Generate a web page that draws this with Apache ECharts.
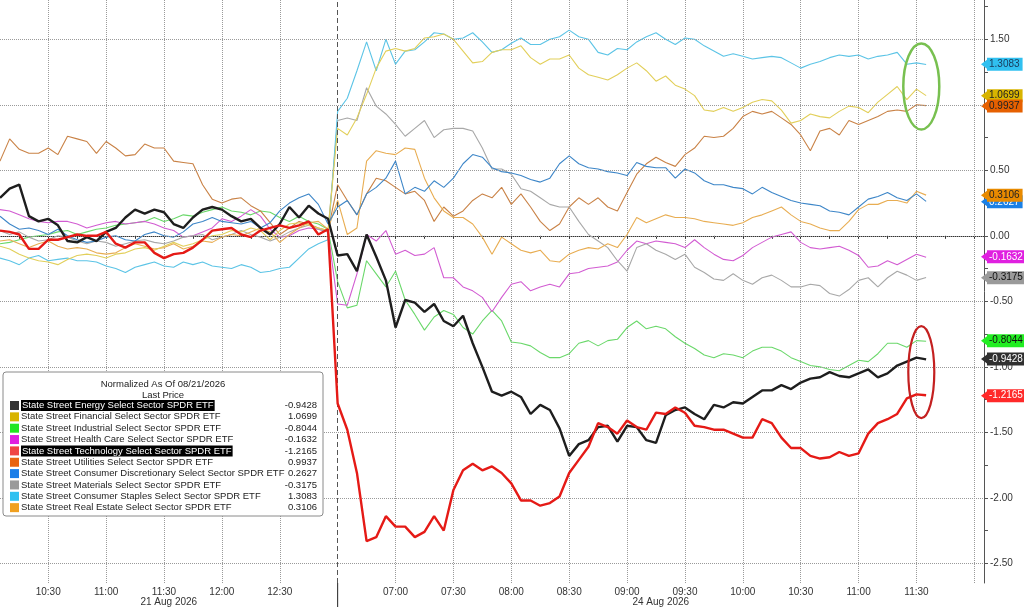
<!DOCTYPE html>
<html><head><meta charset="utf-8">
<script src="https://cdn.jsdelivr.net/npm/echarts@6/dist/echarts.min.js"></script>
<style>html,body{margin:0;padding:0;background:#fff}#c{width:1024px;height:607px}</style>
</head><body><div id="c"></div><script>
// ---------- axis data ----------
const day1Name = '21 Aug 2026';
const day2Name = '24 Aug 2026';
const day1Times = ['10:05','10:10','10:15','10:20','10:25','10:30','10:35','10:40','10:45','10:50','10:55','11:00','11:05','11:10','11:15','11:20','11:25','11:30','11:35','11:40','11:45','11:50','11:55','12:00','12:05','12:10','12:15','12:20','12:25','12:30','12:35','12:40','12:45','12:50','12:55'];
const day2Times = ['06:30','06:35','06:40','06:45','06:50','06:55','07:00','07:05','07:10','07:15','07:20','07:25','07:30','07:35','07:40','07:45','07:50','07:55','08:00','08:05','08:10','08:15','08:20','08:25','08:30','08:35','08:40','08:45','08:50','08:55','09:00','09:05','09:10','09:15','09:20','09:25','09:30','09:35','09:40','09:45','09:50','09:55','10:00','10:05','10:10','10:15','10:20','10:25','10:30','10:35','10:40','10:45','10:50','10:55','11:00','11:05','11:10','11:15','11:20','11:25','11:30','11:35','11:40','11:45','11:50','11:55','12:00','12:05'];
const day1Labels = ['10:30','11:00','11:30','12:00','12:30'];
const day2Labels = ['07:00','07:30','08:00','08:30','09:00','09:30','10:00','10:30','11:00','11:30'];
const day2ExtraGrid = ['12:00'];
const yMajor = [-2.5,-2,-1.5,-1,-0.5,0,0.5,1,1.5];
const yMinor = [-2.5,-2.25,-2,-1.75,-1.5,-1.25,-1,-0.75,-0.5,-0.25,0,0.25,0.5,0.75,1,1.25,1.5,1.75];

// ---------- series meta ----------
const seriesNames = ['State Street Energy Select Sector SPDR ETF','State Street Financial Select Sector SPDR ETF','State Street Industrial Select Sector SPDR ETF','State Street Health Care Select Sector SPDR ETF','State Street Technology Select Sector SPDR ETF','State Street Utilities Select Sector SPDR ETF','State Street Consumer Discretionary Select Sector SPDR ETF','State Street Materials Select Sector SPDR ETF','State Street Consumer Staples Select Sector SPDR ETF','State Street Real Estate Select Sector SPDR ETF'];
const lastPrices = ['-0.9428','1.0699','-0.8044','-0.1632','-1.2165','0.9937','0.2627','-0.3175','1.3083','0.3106'];

// ---------- series values (day 1: 10:05-12:55, day 2: 06:30-11:35, 5-min) ----------
const energyD1 = [0.29,0.36,0.39,0.15,0.11,0.13,0.08,-0.04,-0.05,-0.01,-0.04,0.03,0.06,0.14,0.20,0.17,0.20,0.18,0.09,0.06,0.14,0.20,0.22,0.20,0.15,0.11,0.13,0.06,0.01,0.09,0.22,0.14,0.23,0.17,0.13];
const energyD2 = [-0.15,-0.14,-0.27,0.01,-0.16,-0.34,-0.70,-0.49,-0.51,-0.58,-0.52,-0.65,-0.69,-0.61,-0.82,-1.00,-1.19,-1.22,-1.19,-1.23,-1.36,-1.29,-1.33,-1.47,-1.68,-1.59,-1.56,-1.46,-1.45,-1.57,-1.45,-1.46,-1.56,-1.58,-1.37,-1.33,-1.31,-1.36,-1.40,-1.29,-1.31,-1.27,-1.28,-1.23,-1.18,-1.18,-1.14,-1.17,-1.12,-1.09,-1.08,-1.04,-1.07,-1.08,-1.05,-1.02,-1.08,-1.05,-0.99,-0.96,-0.93,-0.9428];
const financialD1 = [-0.08,-0.10,-0.14,-0.17,-0.19,-0.20,-0.22,-0.18,-0.15,-0.14,-0.15,-0.17,-0.14,-0.13,-0.10,-0.09,-0.11,-0.08,-0.05,-0.08,-0.06,-0.03,0.00,0.01,0.04,0.03,0.06,0.04,-0.03,0.04,0.09,0.10,0.08,0.06,0.04];
const financialD2 = [0.82,0.77,0.90,1.08,1.28,1.41,1.43,1.41,1.43,1.51,1.52,1.54,1.50,1.41,1.32,1.33,1.40,1.42,1.42,1.45,1.36,1.31,1.35,1.35,1.38,1.28,1.23,1.21,1.19,1.23,1.28,1.32,1.26,1.18,1.22,1.15,1.12,1.07,0.96,0.95,0.98,0.95,0.98,1.02,1.04,1.03,0.96,0.86,0.88,0.93,0.91,0.90,0.95,0.99,0.98,0.94,1.02,1.08,1.14,1.04,1.12,1.0699];
const industrialD1 = [-0.06,-0.05,-0.03,-0.01,0.00,0.01,0.03,0.04,0.01,0.03,0.05,0.06,0.08,0.09,0.10,0.11,0.14,0.11,0.13,0.16,0.15,0.18,0.20,0.22,0.19,0.18,0.16,0.19,0.18,0.14,0.11,0.15,0.11,0.09,0.05];
const industrialD2 = [-0.35,-0.55,-0.53,-0.19,-0.29,-0.39,-0.27,-0.49,-0.60,-0.72,-0.62,-0.57,-0.60,-0.70,-0.75,-0.65,-0.57,-0.65,-0.81,-0.82,-0.84,-0.89,-0.93,-0.93,-0.90,-0.82,-0.80,-0.84,-0.80,-0.79,-0.70,-0.65,-0.71,-0.69,-0.71,-0.77,-0.82,-0.86,-0.91,-0.93,-0.90,-0.91,-0.93,-0.88,-0.85,-0.85,-0.88,-0.93,-0.96,-0.99,-1.00,-1.02,-1.03,-0.99,-0.95,-0.96,-0.90,-0.82,-0.82,-0.85,-0.80,-0.8044];
const healthD1 = [0.20,0.19,0.16,0.13,0.11,0.10,0.11,0.11,0.09,0.06,0.08,0.10,0.11,0.09,0.10,0.11,0.09,0.06,0.04,-0.01,0.00,0.03,0.06,0.13,0.11,0.15,0.20,0.15,0.05,-0.01,0.00,0.04,0.06,0.05,0.03];
const healthD2 = [-0.52,-0.53,-0.29,0.01,-0.04,0.04,-0.14,-0.11,-0.15,-0.14,-0.09,-0.32,-0.32,-0.39,-0.42,-0.47,-0.58,-0.47,-0.37,-0.35,-0.42,-0.39,-0.37,-0.39,-0.29,-0.28,-0.25,-0.24,-0.23,-0.20,-0.11,-0.04,-0.06,-0.04,-0.05,-0.06,-0.09,-0.03,-0.09,-0.14,-0.18,-0.19,-0.15,-0.09,-0.05,-0.01,0.01,0.03,-0.05,-0.09,-0.10,-0.09,-0.08,-0.11,-0.15,-0.24,-0.23,-0.19,-0.22,-0.18,-0.14,-0.1632];
const techD1 = [0.04,0.03,0.01,-0.10,-0.10,-0.03,-0.03,-0.01,0.01,0.00,0.00,0.03,-0.06,-0.09,-0.05,-0.05,-0.13,-0.17,-0.14,-0.13,-0.09,-0.03,0.04,0.05,0.06,0.01,-0.01,0.04,0.06,0.08,0.06,0.08,0.11,0.01,0.05];
const techD2 = [-1.28,-1.48,-1.81,-2.33,-2.30,-2.14,-2.22,-2.22,-2.30,-2.26,-2.14,-2.25,-1.94,-1.79,-1.74,-1.79,-1.76,-1.81,-1.89,-2.02,-2.02,-2.06,-2.04,-1.99,-1.81,-1.71,-1.61,-1.43,-1.46,-1.51,-1.41,-1.46,-1.48,-1.35,-1.36,-1.31,-1.35,-1.45,-1.46,-1.48,-1.48,-1.51,-1.54,-1.54,-1.40,-1.43,-1.54,-1.62,-1.62,-1.68,-1.70,-1.69,-1.65,-1.68,-1.66,-1.51,-1.43,-1.40,-1.36,-1.24,-1.21,-1.2165];
const utilitiesD1 = [0.57,0.74,0.66,0.63,0.63,0.67,0.62,0.76,0.74,0.72,0.63,0.72,0.67,0.61,0.62,0.70,0.67,0.67,0.57,0.56,0.55,0.39,0.28,0.25,0.28,0.29,0.23,0.19,0.10,0.01,0.06,0.11,0.09,0.06,0.04];
const utilitiesD2 = [0.39,0.27,0.16,0.32,0.44,0.42,0.37,0.32,0.34,0.27,0.11,0.22,0.15,0.19,0.27,0.32,0.29,0.37,0.24,0.32,0.22,0.11,0.04,0.09,0.22,0.29,0.24,0.29,0.22,0.19,0.33,0.47,0.55,0.60,0.56,0.53,0.62,0.67,0.76,0.75,0.76,0.82,0.91,0.95,0.93,0.95,0.90,0.85,0.77,0.65,0.80,0.82,0.77,0.88,0.85,0.88,0.91,0.95,0.96,0.95,1.00,0.9937];
const discD1 = [0.15,0.09,0.05,0.06,0.04,0.01,0.05,0.00,-0.03,-0.05,-0.04,-0.01,0.00,-0.03,-0.04,0.01,0.03,0.00,-0.01,0.03,0.09,0.11,0.14,0.11,0.10,0.09,0.11,0.06,0.10,0.19,0.25,0.29,0.32,0.24,0.09];
const discD2 = [0.22,0.27,0.16,0.32,0.37,0.44,0.57,0.32,0.37,0.34,0.42,0.37,0.44,0.55,0.62,0.60,0.52,0.49,0.48,0.46,0.43,0.41,0.44,0.55,0.61,0.55,0.52,0.51,0.49,0.48,0.46,0.56,0.53,0.52,0.52,0.44,0.51,0.48,0.42,0.39,0.39,0.37,0.36,0.32,0.37,0.33,0.30,0.27,0.25,0.24,0.23,0.19,0.18,0.16,0.22,0.28,0.30,0.33,0.29,0.27,0.32,0.2627];
const materialsD1 = [0.04,0.01,0.03,-0.01,-0.04,-0.03,0.00,-0.01,-0.04,-0.06,-0.04,-0.05,-0.08,-0.06,-0.04,-0.03,-0.05,-0.06,-0.04,-0.01,0.00,0.01,-0.03,-0.01,0.01,0.04,0.01,-0.01,-0.04,-0.01,0.03,0.06,0.08,0.05,0.03];
const materialsD2 = [0.88,0.90,0.88,1.13,0.99,0.93,0.85,0.76,0.82,0.88,0.75,0.81,0.82,0.82,0.80,0.67,0.51,0.51,0.47,0.36,0.34,0.29,0.24,0.22,0.22,0.11,0.01,-0.04,-0.09,-0.19,-0.27,-0.09,-0.06,-0.11,-0.14,-0.18,-0.14,-0.24,-0.28,-0.33,-0.34,-0.29,-0.34,-0.37,-0.32,-0.30,-0.34,-0.39,-0.39,-0.37,-0.38,-0.44,-0.46,-0.41,-0.34,-0.32,-0.39,-0.32,-0.27,-0.30,-0.34,-0.3175];
const staplesD1 = [-0.17,-0.19,-0.22,-0.17,-0.15,-0.19,-0.18,-0.17,-0.19,-0.19,-0.20,-0.23,-0.25,-0.28,-0.24,-0.22,-0.20,-0.23,-0.24,-0.20,-0.22,-0.20,-0.23,-0.24,-0.25,-0.22,-0.24,-0.28,-0.27,-0.25,-0.24,-0.17,-0.10,-0.06,-0.03];
const staplesD2 = [0.95,1.05,1.26,1.48,1.26,1.50,1.31,1.41,1.42,1.48,1.55,1.54,1.50,1.51,1.55,1.48,1.40,1.42,1.47,1.51,1.46,1.46,1.50,1.52,1.57,1.52,1.50,1.40,1.38,1.43,1.42,1.48,1.52,1.55,1.50,1.46,1.51,1.50,1.45,1.41,1.37,1.39,1.37,1.35,1.36,1.37,1.36,1.32,1.28,1.31,1.33,1.36,1.38,1.37,1.38,1.35,1.37,1.38,1.40,1.31,1.32,1.3083];
const realEstateD1 = [-0.04,-0.03,-0.06,-0.09,-0.06,-0.04,-0.08,-0.10,-0.09,-0.10,-0.13,-0.14,-0.13,-0.09,-0.06,-0.08,-0.10,-0.09,-0.06,-0.10,-0.08,-0.04,-0.05,-0.01,0.01,0.00,0.03,0.06,0.03,-0.05,0.01,0.06,0.10,0.11,0.05];
const realEstateD2 = [0.27,0.01,0.06,0.57,0.65,0.63,0.62,0.67,0.66,0.44,0.29,0.19,0.14,0.14,0.09,-0.01,-0.14,-0.01,-0.06,-0.11,-0.13,-0.11,-0.19,-0.20,-0.14,-0.11,-0.09,-0.10,-0.06,-0.09,0.01,0.14,0.10,0.13,0.16,0.14,0.14,0.13,0.11,0.10,0.09,0.08,0.10,0.14,0.16,0.19,0.22,0.16,0.11,0.09,0.06,0.04,0.04,0.11,0.20,0.24,0.24,0.27,0.27,0.25,0.34,0.3106];

const day1Values = [energyD1,financialD1,industrialD1,healthD1,techD1,utilitiesD1,discD1,materialsD1,staplesD1,realEstateD1];
const day2Values = [energyD2,financialD2,industrialD2,healthD2,techD2,utilitiesD2,discD2,materialsD2,staplesD2,realEstateD2];

// ---------- styles ----------
const lineColors = ['#1e1e1e','#e2cf5a','#6ad86a','#d25cd2','#e51a16','#c98246','#3d86c8','#a8a8a8','#5cc4e6','#e8ad52'];
const lineWidths = [2.4,1.1,1.1,1.1,2.4,1.1,1.1,1.1,1.1,1.1];
const lineZ = [6,4,3,3,7,3,4,3,3,3];
const squareColors = ['#333333','#d8b400','#22e622','#e020e0','#f04444','#e86412','#1a7ee8','#9a9a9a','#2ec0f0','#f0a020'];
const tagBg = ['#303030','#d8b400','#22ee22','#e020e0','#ff2a2a','#e66000','#1a80e6','#9a9a9a','#30c0f0','#e88a00'];
const tagFg = ['#ffffff','#222222','#111111','#ffffff','#ffffff','#222222','#ffffff','#111111','#1a3a5a','#222222'];
const highlighted = [true,false,false,false,true,false,false,false,false,false];
const FONT = '"Liberation Sans", Arial, sans-serif';

const cats = day1Times.map(t => day1Name + ' ' + t).concat(day2Times.map(t => day2Name + ' ' + t));
const labelSet = new Set(day1Labels.map(t => day1Name + ' ' + t).concat(day2Labels.map(t => day2Name + ' ' + t)));
const gridSet = new Set([...labelSet].concat(day2ExtraGrid.map(t => day2Name + ' ' + t)));
const boundaryCat = day2Name + ' ' + day2Times[0];
const isMajor = v => Math.abs(v * 2 - Math.round(v * 2)) < 1e-6;

const chart = echarts.init(document.getElementById('c'), null, {renderer: 'canvas'});

const series = seriesNames.map((name, i) => {
  const data = day1Values[i].concat(day2Values[i]);
  const last = day2Values[i][day2Values[i].length - 1];
  return {
    name, type: 'line', data, showSymbol: false, symbol: 'none', silent: true,
    lineStyle: {color: lineColors[i], width: lineWidths[i]}, z: lineZ[i],
    markLine: {
      silent: true, animation: false,
      symbol: ['none', 'path://M0,0L10,0L5,10Z'], symbolSize: [9, 6],
      lineStyle: {width: 0, color: tagBg[i]},
      label: {show: true, position: 'end', distance: 3, formatter: () => lastPrices[i],
        color: tagFg[i], backgroundColor: tagBg[i], padding: [1, 3, 0, 2],
        fontSize: 10, fontFamily: FONT, lineHeight: 12},
      data: [{yAxis: last}]
    }
  };
});
series.push({
  name: 'grid', type: 'line', data: [], silent: true, z: 1,
  markLine: {
    silent: true, animation: false, symbol: ['none', 'none'], label: {show: false},
    lineStyle: {type: 'dotted', color: '#9a9a9a', width: 1},
    data: yMajor.map(v => ({yAxis: v})).concat([{xAxis: boundaryCat, lineStyle: {type: [5, 3], color: '#555', width: 1}}])
  }
});

chart.setOption({
  animation: false,
  backgroundColor: '#ffffff',
  grid: {left: 0, right: 40, top: 0, bottom: 24, containLabel: false},
  xAxis: {
    type: 'category', data: cats, boundaryGap: false,
    axisLine: {lineStyle: {color: '#333'}},
    axisTick: {interval: (i, v) => (+v.slice(-2)) % 15 === 0, length: 3, lineStyle: {color: '#333'}},
    axisLabel: {interval: (i, v) => labelSet.has(v), formatter: v => v.slice(-5), color: '#333', fontSize: 10, fontFamily: FONT, margin: 4},
    splitLine: {show: true, interval: (i, v) => gridSet.has(v), lineStyle: {type: 'dotted', color: '#9a9a9a'}}
  },
  yAxis: {
    type: 'value', position: 'right', min: -2.65, max: 1.8, interval: 0.05,
    axisLine: {show: true, lineStyle: {color: '#555'}},
    axisTick: {show: true, customValues: yMinor, length: 4, lineStyle: {color: '#555'}},
    axisLabel: {customValues: yMajor, formatter: v => isMajor(v) ? v.toFixed(2) : '', color: '#333', fontSize: 10, fontFamily: FONT, margin: 6},
    splitLine: {show: false}
  },
  series
});

// ---------- annotations / legend ----------
const px = (cat, v) => chart.convertToPixel({xAxisIndex: 0, yAxisIndex: 0}, [cat, v]);
const first1 = px(cats[0], 0), bnd = px(boundaryCat, 0), lastC = px(cats[cats.length - 1], 0);
const bottomY = px(cats[0], -2.65)[1];
const a1130 = px(day2Name + ' 11:30', 1.14), a1135 = px(day2Name + ' 11:35', 1.14);
const r1130 = px(day2Name + ' 11:30', -1.04), r1135 = px(day2Name + ' 11:35', -1.04);

const graphics = [];
graphics.push({type: 'ellipse', z: 120, shape: {cx: (a1130[0] + a1135[0]) / 2, cy: a1130[1], rx: 18, ry: 43}, style: {fill: 'none', stroke: '#78c050', lineWidth: 2.5}});
graphics.push({type: 'ellipse', z: 120, shape: {cx: (r1130[0] + r1135[0]) / 2, cy: r1130[1], rx: 13, ry: 46}, style: {fill: 'none', stroke: '#c42020', lineWidth: 2.2}});
graphics.push({type: 'line', z: 120, shape: {x1: bnd[0], y1: bottomY, x2: bnd[0], y2: 607}, style: {stroke: '#222', lineWidth: 1}});
graphics.push({type: 'text', z: 120, style: {text: day1Name, x: (first1[0] + bnd[0]) / 2, y: 602, font: '10px ' + FONT, fill: '#333', align: 'center', textAlign: 'center', verticalAlign: 'middle', textVerticalAlign: 'middle'}});
graphics.push({type: 'text', z: 120, style: {text: day2Name, x: (bnd[0] + lastC[0]) / 2, y: 602, font: '10px ' + FONT, fill: '#333', align: 'center', textAlign: 'center', verticalAlign: 'middle', textVerticalAlign: 'middle'}});

// legend box
const LX = 3, LY = 372, LW = 320, LH = 144;
graphics.push({type: 'rect', z: 110, shape: {x: LX, y: LY, width: LW, height: LH, r: 3}, style: {fill: '#ffffff', stroke: '#8a8a8a', lineWidth: 1}});
graphics.push({type: 'text', z: 111, style: {text: 'Normalized As Of 08/21/2026', x: 163, y: 384, font: '9.5px ' + FONT, fill: '#222', align: 'center', textAlign: 'center', verticalAlign: 'middle', textVerticalAlign: 'middle'}});
graphics.push({type: 'text', z: 111, style: {text: 'Last Price', x: 163, y: 395, font: '9.5px ' + FONT, fill: '#222', align: 'center', textAlign: 'center', verticalAlign: 'middle', textVerticalAlign: 'middle'}});
seriesNames.forEach((name, j) => {
  const ry = 405.5 + j * 11.35;
  graphics.push({type: 'rect', z: 111, shape: {x: 10, y: ry - 4.5, width: 9, height: 9}, style: {fill: squareColors[j]}});
  const ts = {text: name, x: 21, y: ry, font: '9.5px ' + FONT, fill: highlighted[j] ? '#fff' : '#222', align: 'left', textAlign: 'left', verticalAlign: 'middle', textVerticalAlign: 'middle'};
  if (highlighted[j]) { ts.backgroundColor = '#000'; ts.padding = [1, 1, 0, 1]; }
  graphics.push({type: 'text', z: 111, style: ts});
  graphics.push({type: 'text', z: 111, style: {text: lastPrices[j], x: 317, y: ry, font: '9.5px ' + FONT, fill: '#222', align: 'right', textAlign: 'right', verticalAlign: 'middle', textVerticalAlign: 'middle'}});
});
chart.setOption({graphic: graphics});
</script></body></html>
